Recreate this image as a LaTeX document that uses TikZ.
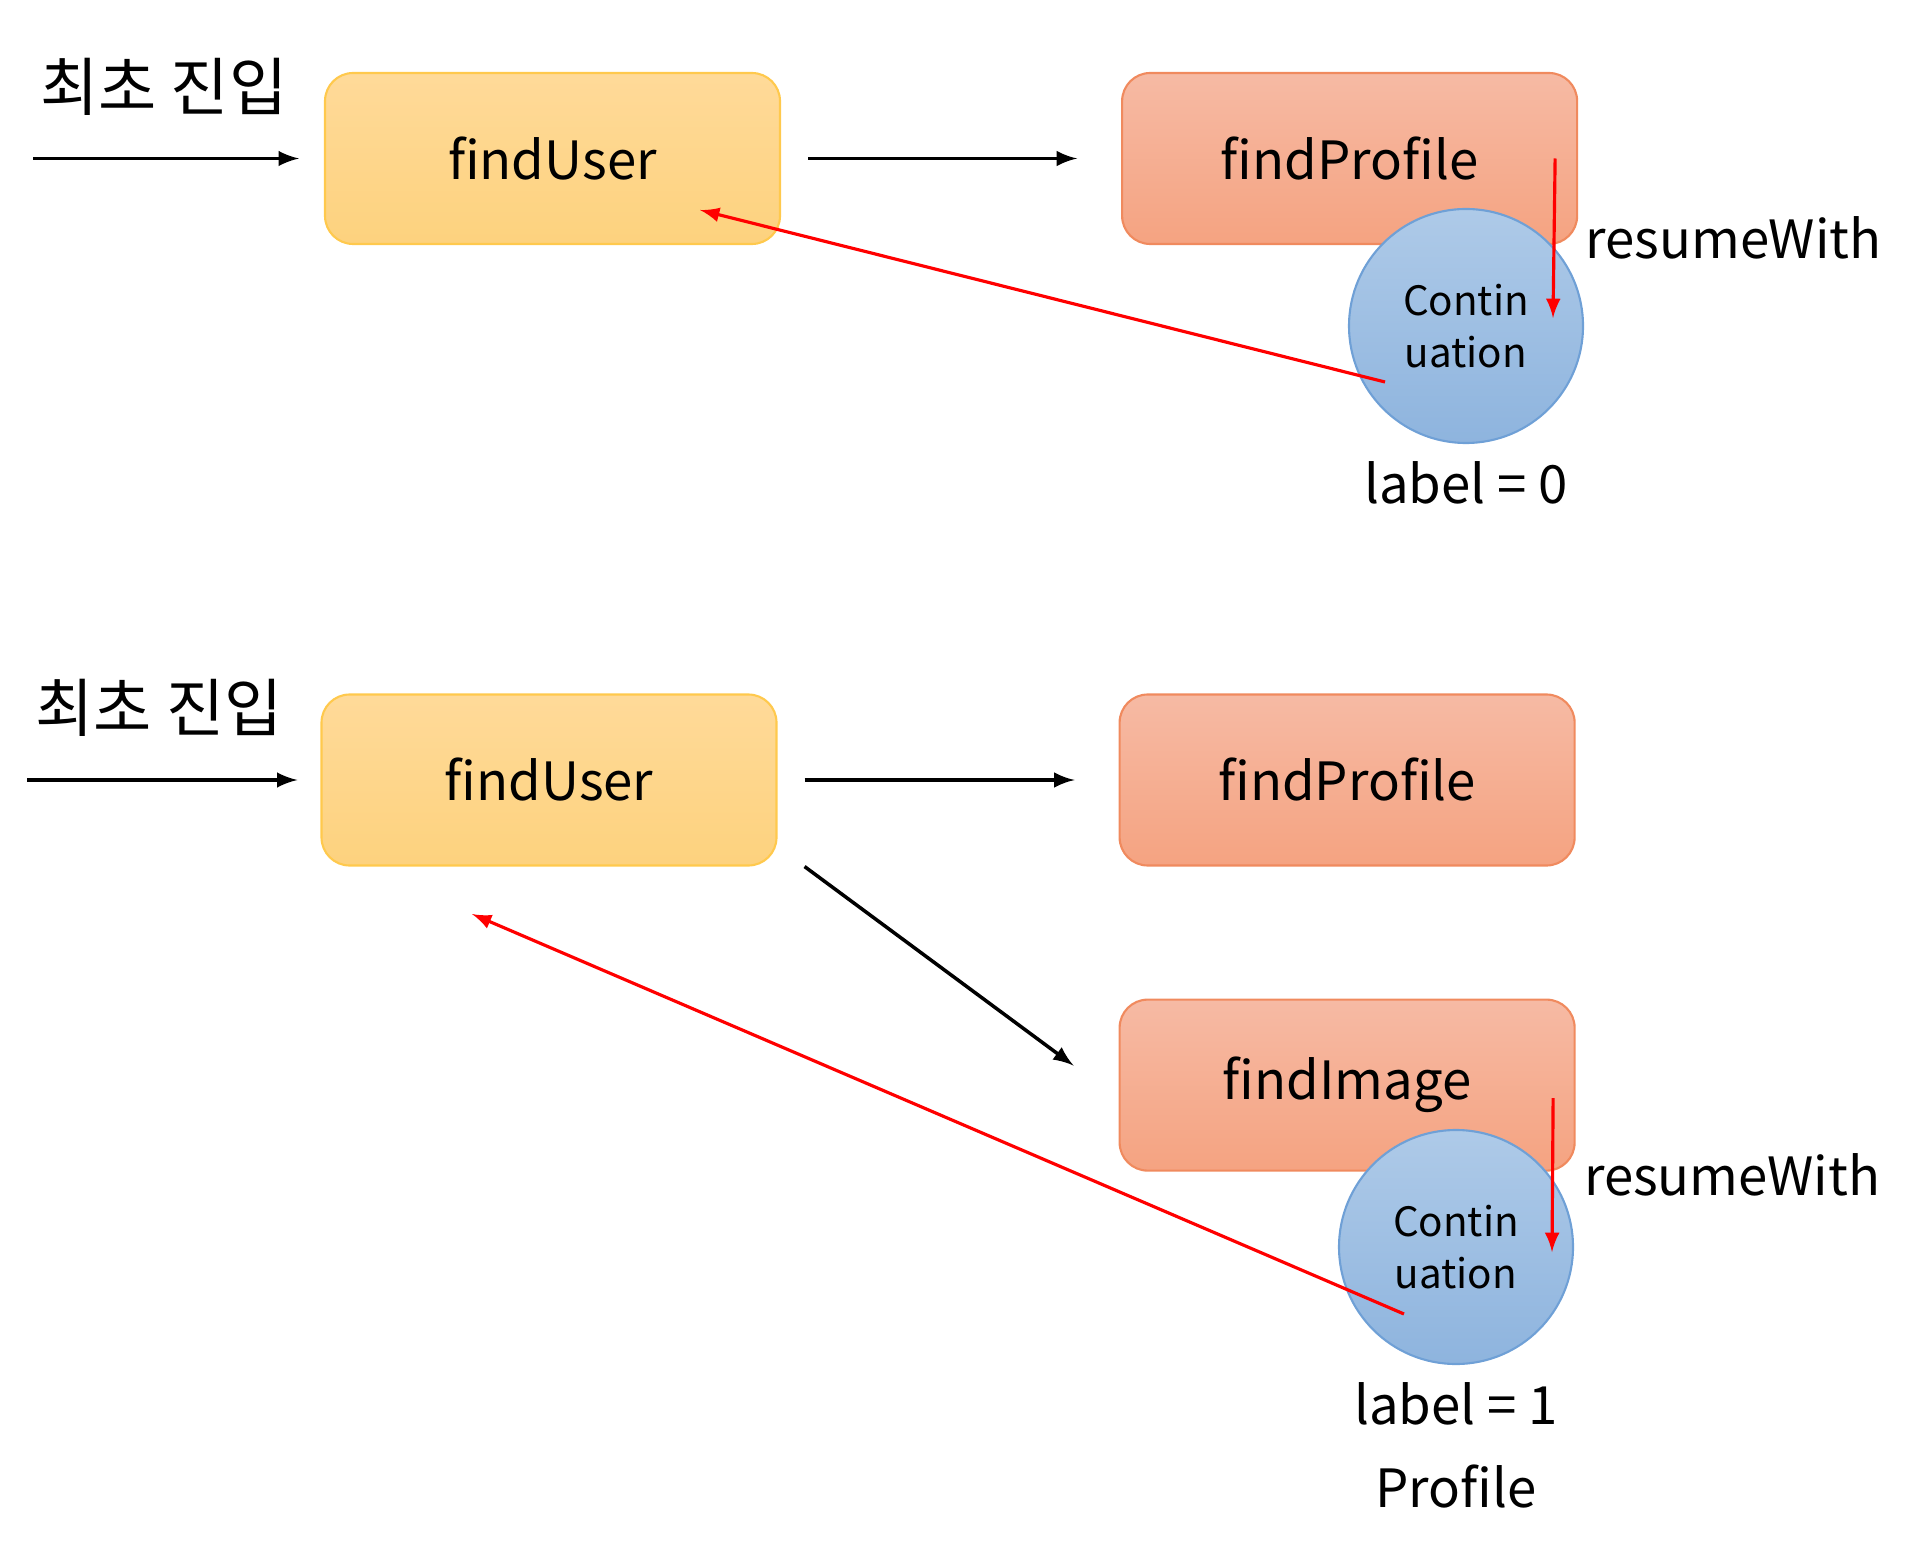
\documentclass[tikz,border=0pt]{standalone}
\usepackage{fontspec}
\setmainfont{Noto Sans CJK KR}
\usepackage{tikz}
\usetikzlibrary{arrows, positioning, calc}
\definecolor{userTop}{HTML}{FFDA99}
\definecolor{userBot}{HTML}{FDD27E}
\definecolor{userLine}{HTML}{FFC94D}
\definecolor{callTop}{HTML}{F6BAA4}
\definecolor{callBot}{HTML}{F5A381}
\definecolor{callLine}{HTML}{F08A5E}
\definecolor{contTop}{HTML}{AECAE8}
\definecolor{contBot}{HTML}{8EB4DE}
\definecolor{contLine}{HTML}{6FA0D6}
\definecolor{backRed}{HTML}{FF0000}

\begin{document}
\begin{tikzpicture}[
  userbox/.style={rectangle, rounded corners=8pt, draw=userLine, line width=0.6pt, top color=userTop, bottom color=userBot, minimum width=4.55cm, minimum height=1.71cm, font=\fontsize{15}{18}\selectfont},
  callbox/.style={rectangle, rounded corners=8pt, draw=callLine, line width=0.6pt, top color=callTop, bottom color=callBot, minimum width=4.55cm, minimum height=1.71cm, font=\fontsize{15}{18}\selectfont},
  cont/.style={circle, draw=contLine, line width=0.6pt, top color=contTop, bottom color=contBot, minimum size=2.34cm, inner sep=0pt, align=center, font=\fontsize{11.5}{14.8}\selectfont},
  arrow/.style={-latex, line width=1pt, black},
  back/.style={-latex, line width=0.9pt, color=backRed},
  txt/.style={text=black, font=\fontsize{15}{18}\selectfont},
  entry/.style={text=black, font=\fontsize{18}{22}\selectfont}
]
\useasboundingbox (0,0) rectangle (19.06,-15.48);

% first entry
\node[userbox] (user1) at (5.525,-1.585) {findUser};
\node[callbox, right=3.4cm of user1] (profile1) {findProfile};
\node[cont] (cont1) at (14.66,-3.26) {Contin\\uation};
\node[txt, below=0.05cm of cont1] (lbl1) {label = 0};

\coordinate (in1) at (0.33,-1.585);
\draw[arrow, shorten >=0.25cm] (in1) -- node[entry, pos=0.45, above=0.3cm] {최초 진입} (user1);
\draw[arrow, shorten <=0.27cm, shorten >=0.44cm] (user1) -- (profile1);
\draw[back] ([xshift=2.055cm]profile1.center) -- node[txt, right=0.3cm, inner sep=0pt] {resumeWith} ([xshift=0.87cm, yshift=0.08cm]cont1.center);
\draw[back] ([xshift=-0.81cm, yshift=-0.56cm]cont1.center) -- ([xshift=1.475cm, yshift=-0.515cm]user1.center);

% second entry
\node[userbox] (user2) at (5.49,-7.80) {findUser};
\node[callbox, right=3.41cm of user2] (profile2) {findProfile};
\node[callbox, below=1.32cm of profile2] (image2) {findImage};
\node[cont] (cont2) at (14.56,-12.47) {Contin\\uation};
\node[txt, below=0.05cm of cont2] (lbl2) {label = 1};
\node[txt, below=0.15cm of lbl2] (prof2) {Profile};

\coordinate (in2) at (0.27,-7.80);
\draw[arrow, shorten >=0.23cm] (in2) -- node[entry, pos=0.45, above=0.3cm] {최초 진입} (user2);
\draw[arrow, shorten <=0.27cm, shorten >=0.44cm] (user2) -- (profile2);
\draw[arrow] ([xshift=0.27cm]user2.south east) -- ([xshift=-0.45cm, yshift=-0.67cm]image2.north west);
\draw[back] ([xshift=2.06cm, yshift=-0.13cm]image2.center) -- node[txt, right=0.3cm, inner sep=0pt] {resumeWith} ([xshift=0.96cm, yshift=-0.05cm]cont2.center);
\draw[back] ([xshift=-0.52cm, yshift=-0.67cm]cont2.center) -- ([xshift=-0.77cm, yshift=-1.34cm]user2.center);

\end{tikzpicture}
\end{document}
